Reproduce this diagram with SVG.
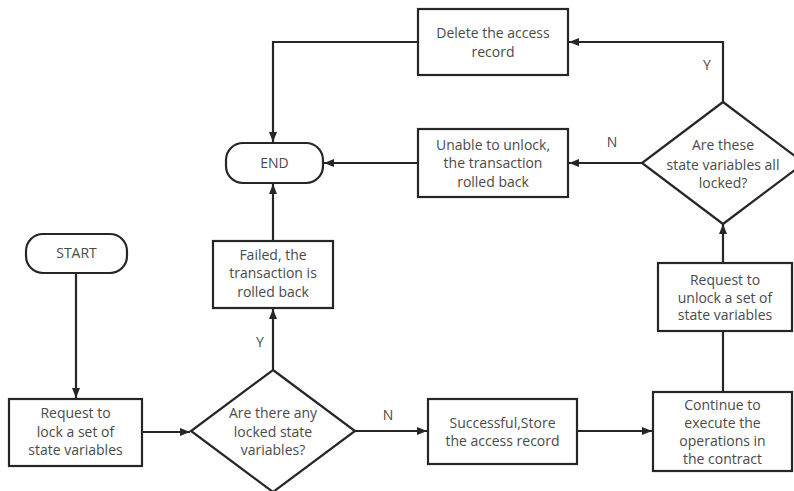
<svg xmlns="http://www.w3.org/2000/svg" width="794" height="491" viewBox="0 0 794 491">
  <style>
    .box { fill: #ffffff; stroke: #262626; stroke-width: 2.2; }
    .edge { fill: none; stroke: #262626; stroke-width: 2.2; }
    .label { font-family: "Open Sans", "Noto Sans", "DejaVu Sans", sans-serif; font-size: 14px; fill: #4a4a4a; text-anchor: middle; }
  </style>
  <defs>
    <marker id="arrow" viewBox="0 0 10 8" refX="10" refY="4" markerWidth="10" markerHeight="8" markerUnits="userSpaceOnUse" orient="auto">
      <path d="M0,0 L10,4 L0,8 Z" fill="#262626"/>
    </marker>
  </defs>
  <rect width="794" height="491" fill="#ffffff"/>

  <!-- connectors -->
  <g id="connectors">
    <line class="edge" x1="76" y1="273" x2="76" y2="398" marker-end="url(#arrow)"/>
    <line class="edge" x1="142" y1="432" x2="190" y2="432" marker-end="url(#arrow)"/>
    <line class="edge" x1="355" y1="431" x2="427" y2="431" marker-end="url(#arrow)"/>
    <line class="edge" x1="577" y1="431" x2="652" y2="431" marker-end="url(#arrow)"/>
    <line class="edge" x1="723" y1="392" x2="723" y2="332"/>
    <line class="edge" x1="723" y1="263" x2="723" y2="224" marker-end="url(#arrow)"/>
    <polyline class="edge" points="723,102 723,42 569,42" marker-end="url(#arrow)"/>
    <line class="edge" x1="642" y1="163" x2="569" y2="163" marker-end="url(#arrow)"/>
    <polyline class="edge" points="418,42 273,42 273,142" marker-end="url(#arrow)"/>
    <line class="edge" x1="418" y1="163" x2="324" y2="163" marker-end="url(#arrow)"/>
    <line class="edge" x1="273" y1="241" x2="273" y2="184" marker-end="url(#arrow)"/>
    <line class="edge" x1="273" y1="370" x2="273" y2="309" marker-end="url(#arrow)"/>
    <text class="label" x="388" y="420">N</text>
    <text class="label" x="260" y="347">Y</text>
    <text class="label" x="707" y="70">Y</text>
    <text class="label" x="612" y="147">N</text>
  </g>

  <g id="start">
    <rect class="box" x="26" y="234" width="101" height="39" rx="17"/>
    <text class="label" x="76.5" y="258">START</text>
  </g>

  <g id="lock-request">
    <rect class="box" x="9" y="399" width="133" height="67"/>
    <text class="label" x="75.5" y="418">Request to</text>
    <text class="label" x="75.5" y="436.5">lock a set of</text>
    <text class="label" x="75.5" y="455">state variables</text>
  </g>

  <g id="locked-check">
    <polygon class="box" points="273,370 355,431 273,492 191,431"/>
    <text class="label" x="273" y="418">Are there any</text>
    <text class="label" x="273" y="436.5">locked state</text>
    <text class="label" x="273" y="455">variables?</text>
  </g>

  <g id="store-record">
    <rect class="box" x="428" y="399" width="149" height="65"/>
    <text class="label" x="502.5" y="428">Successful,Store</text>
    <text class="label" x="502.5" y="446">the access record</text>
  </g>

  <g id="execute">
    <rect class="box" x="653" y="392" width="139" height="79"/>
    <text class="label" x="722.5" y="410">Continue to</text>
    <text class="label" x="722.5" y="428">execute the</text>
    <text class="label" x="722.5" y="446">operations in</text>
    <text class="label" x="722.5" y="464">the contract</text>
  </g>

  <g id="unlock-request">
    <rect class="box" x="658" y="263" width="134" height="68"/>
    <text class="label" x="725" y="285">Request to</text>
    <text class="label" x="725" y="302.5">unlock a set of</text>
    <text class="label" x="725" y="320">state variables</text>
  </g>

  <g id="all-locked-check">
    <polygon class="box" points="723,102 804,163 723,224 642,163"/>
    <text class="label" x="723" y="150">Are these</text>
    <text class="label" x="723" y="170">state variables all</text>
    <text class="label" x="723" y="188">locked?</text>
  </g>

  <g id="delete-record">
    <rect class="box" x="418" y="9" width="150" height="66"/>
    <text class="label" x="493" y="38">Delete the access</text>
    <text class="label" x="493" y="57">record</text>
  </g>

  <g id="unlock-failed">
    <rect class="box" x="418" y="129" width="150" height="68"/>
    <text class="label" x="493" y="150">Unable to unlock,</text>
    <text class="label" x="493" y="168">the transaction</text>
    <text class="label" x="493" y="187">rolled back</text>
  </g>

  <g id="end">
    <rect class="box" x="226" y="143" width="97" height="40" rx="17"/>
    <text class="label" x="274.5" y="168">END</text>
  </g>

  <g id="lock-failed">
    <rect class="box" x="213" y="241" width="120" height="67"/>
    <text class="label" x="273" y="260">Failed, the</text>
    <text class="label" x="273" y="278">transaction is</text>
    <text class="label" x="273" y="297">rolled back</text>
  </g>
</svg>
